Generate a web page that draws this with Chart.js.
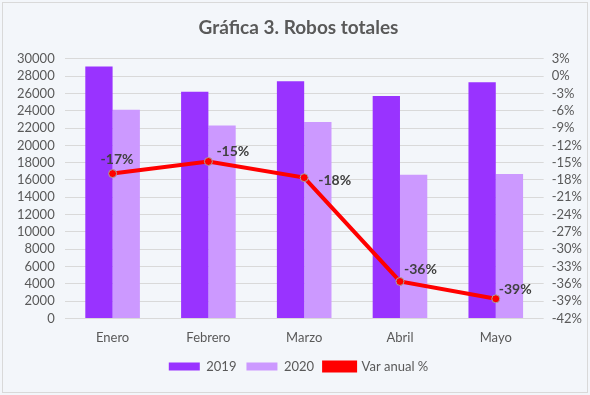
<!DOCTYPE html>
<html>
<head>
<meta charset="utf-8">
<script src="https://cdn.jsdelivr.net/npm/chart.js@4.4.0/dist/chart.umd.min.js"></script>
<style>
  html, body { margin: 0; padding: 0; background: #ffffff; }
  #wrap { width: 590px; height: 395px; position: relative; }
</style>
</head>
<body>
<div id="wrap"><canvas id="myChart" width="590" height="395"></canvas></div>
<script>
// datos
const meses = ['Enero', 'Febrero', 'Marzo', 'Abril', 'Mayo'];
const robos2019 = [29100, 26200, 27400, 25700, 27300];
const robos2020 = [24100, 22300, 22700, 16600, 16700];
const varAnual = [-16.9, -14.8, -17.6, -35.6, -38.6];

// offsets de las etiquetas (colocadas a mano como en Excel)
const labelOffsets = [[-12, -14], [8, -10], [14, 3], [4, -12], [3, -9]];

const fuente = 'Lato, "Open Sans", sans-serif';

const fondo = {
    id: 'fondo',
    beforeDraw(chart) {
        const c = chart.ctx;
        c.save();
        c.fillStyle = '#f3f6fa';
        c.fillRect(0, 0, chart.width, chart.height);
        c.strokeStyle = '#d9d9d9';
        c.lineWidth = 1;
        c.strokeRect(2.5, 2.5, chart.width - 5, chart.height - 5);
        c.restore();
    }
};

const etiquetas = {
    id: 'etiquetas',
    afterDatasetsDraw(chart) {
        const meta = chart.getDatasetMeta(2);
        const c = chart.ctx;
        c.save();
        c.font = 'bold 14px ' + fuente;
        c.fillStyle = '#404040';
        c.textAlign = 'left';
        c.textBaseline = 'middle';
        meta.data.forEach((pt, i) => {
            const off = labelOffsets[i];
            c.fillText(Math.round(varAnual[i]) + '%', pt.x + off[0], pt.y + off[1]);
        });
        c.restore();
    }
};

const ctx = document.getElementById('myChart').getContext('2d');
new Chart(ctx, {
    type: 'bar',
    data: {
        labels: meses,
        datasets: [
            {
                label: '2019',
                data: robos2019,
                backgroundColor: '#9933ff',
                yAxisID: 'y',
                order: 2,
                categoryPercentage: 0.57,
                barPercentage: 1.0,
            },
            {
                label: '2020',
                data: robos2020,
                backgroundColor: '#cc99ff',
                yAxisID: 'y',
                order: 2,
                categoryPercentage: 0.57,
                barPercentage: 1.0,
            },
            {
                type: 'line',
                label: 'Var anual %',
                data: varAnual,
                yAxisID: 'y1',
                borderColor: '#ff0000',
                backgroundColor: '#ff0000',
                borderWidth: 4,
                pointRadius: 4,
                pointBackgroundColor: '#ff0000',
                pointBorderColor: '#a5a5a5',
                pointBorderWidth: 1,
                tension: 0,
                order: 1,
            },
        ],
    },
    options: {
        responsive: false,
        animation: false,
        layout: { padding: { left: 7, right: 0, top: 4, bottom: 12 } },
        plugins: {
            title: {
                display: true,
                text: 'Gráfica 3. Robos totales',
                color: '#595959',
                font: { family: fuente, size: 19, weight: 'bold' },
                padding: { top: 12, bottom: 20 },
            },
            legend: {
                position: 'bottom',
                labels: {
                    color: '#595959',
                    font: { family: fuente, size: 13 },
                    boxWidth: 31,
                    boxHeight: 8,
                    padding: 10,
                    sort: (a, b) => a.datasetIndex - b.datasetIndex,
                },
            },
            tooltip: { enabled: false },
        },
        scales: {
            x: {
                grid: { display: false },
                border: { display: false },
                ticks: {
                    color: '#595959',
                    font: { family: fuente, size: 13 },
                    padding: 4,
                },
            },
            y: {
                position: 'left',
                min: 0,
                max: 30000,
                ticks: {
                    stepSize: 2000,
                    autoSkip: false,
                    color: '#595959',
                    font: { family: fuente, size: 13 },
                    padding: 10,
                    callback: v => String(v),
                },
                grid: { color: '#d9d9d9', drawTicks: false },
                border: { display: false },
            },
            y1: {
                position: 'right',
                min: -42,
                max: 3,
                ticks: {
                    stepSize: 3,
                    autoSkip: false,
                    color: '#595959',
                    font: { family: fuente, size: 13 },
                    padding: 8,
                    callback: v => v + '%',
                },
                grid: { display: false, drawTicks: false },
                border: { display: false },
            },
        },
    },
    plugins: [fondo, etiquetas],
});
</script>
</body>
</html>
